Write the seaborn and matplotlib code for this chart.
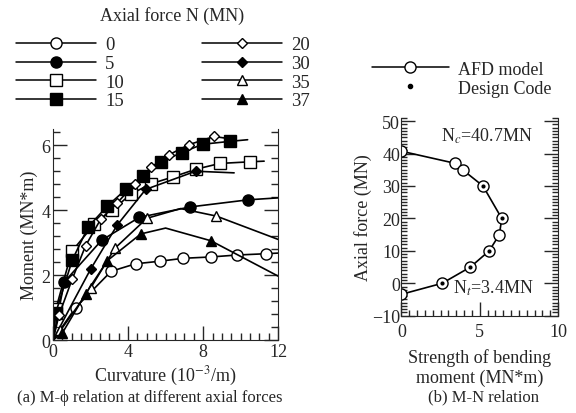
import matplotlib
matplotlib.use("Agg")
import matplotlib.pyplot as plt
import seaborn as sns
import pandas as pd
from matplotlib.lines import Line2D
from matplotlib.ticker import MultipleLocator

sns.set_style("ticks")
plt.rcParams["font.family"] = ["Liberation Serif", "DejaVu Serif"]
plt.rcParams["mathtext.fontset"] = "stix"

# (a) moment-curvature curves, one per axial force N (MN)
curv_0 = [0, 1.2, 3.1, 4.4, 5.7, 6.95, 8.4, 9.8, 11.35, 12.0]
mom_0 = [0, 1.0, 2.12, 2.35, 2.43, 2.52, 2.56, 2.62, 2.66, 2.68]
curv_5 = [0, 0.6, 2.6, 4.6, 7.3, 10.4, 12.0]
mom_5 = [0, 1.79, 3.08, 3.78, 4.10, 4.32, 4.38]
curv_10 = [0, 0.15, 1.0, 2.2, 3.15, 4.14, 5.2, 6.37, 7.6, 8.9, 10.5, 11.25]
mom_10 = [0, 0.95, 2.73, 3.57, 4.0, 4.49, 4.81, 5.02, 5.26, 5.44, 5.49, 5.51]
curv_15 = [0, 0.15, 1.03, 1.88, 2.9, 3.88, 4.77, 5.74, 6.85, 7.97, 9.44, 10.37]
mom_15 = [0, 0.85, 2.47, 3.49, 4.13, 4.64, 5.05, 5.49, 5.77, 6.03, 6.12, 6.17]
curv_20 = [0, 0.32, 1.03, 1.74, 2.54, 3.43, 4.37, 5.24, 6.19, 7.25, 8.59, 9.4]
mom_20 = [0, 0.77, 1.89, 2.91, 3.72, 4.23, 4.82, 5.33, 5.71, 6.02, 6.27, 6.2]
curv_30 = [0, 1.0, 2.0, 3.43, 4.94, 7.6, 9.65]
mom_30 = [0, 1.1, 2.18, 3.55, 4.64, 5.2, 5.15]
curv_35 = [0, 0.4, 2.0, 3.3, 5.0, 6.8, 8.7, 12.0]
mom_35 = [0, 0.3, 1.6, 2.83, 3.75, 4.05, 3.82, 3.1]
curv_37 = [0, 0.5, 1.74, 2.9, 4.68, 6.0, 8.41, 12.0]
mom_37 = [0, 0.22, 1.43, 2.45, 3.27, 3.45, 3.06, 1.97]

# (b) M-N interaction
mn_moment = [0, 3.4, 3.9, 5.2, 6.4, 6.25, 5.6, 4.4, 2.6, 0]
mn_axial = [40.7, 37, 35, 30, 20, 15, 10, 5, 0, -3.4]
code_moment = [5.2, 6.4, 5.6, 4.4, 2.6]
code_axial = [30, 20, 10, 5, 0]

# label, x, y, marker, face, size, which points get markers
series = [
    ("0", curv_0, mom_0, "o", "white", 8, list(range(1, 9))),
    ("5", curv_5, mom_5, "o", "black", 8, list(range(1, 6))),
    ("10", curv_10, mom_10, "s", "white", 8, list(range(1, 11))),
    ("15", curv_15, mom_15, "s", "black", 8, list(range(1, 11))),
    ("20", curv_20, mom_20, "D", "white", 5.5, list(range(1, 11))),
    ("30", curv_30, mom_30, "D", "black", 5.5, [2, 3, 4, 5]),
    ("35", curv_35, mom_35, "^", "white", 7, [1, 2, 3, 4, 6]),
    ("37", curv_37, mom_37, "^", "black", 7, [1, 2, 3, 4, 6]),
]

fig = plt.figure(figsize=(5.76, 4.14), dpi=100)
ax1 = fig.add_axes([0.092, 0.176, 0.391, 0.51])
ax2 = fig.add_axes([0.697, 0.235, 0.272, 0.478])

handles = []
for lab, xs, ys, mk, fc, ms, idx in series:
    df = pd.DataFrame({"x": xs, "y": ys})
    sns.lineplot(data=df, x="x", y="y", ax=ax1, sort=False, estimator=None,
                 color="black", lw=1.2, marker=mk, markevery=idx, ms=ms,
                 mfc=fc, mec="black", mew=1.0)
    handles.append(Line2D([], [], color="black", lw=1.1, marker=mk, ms=ms,
                          mfc=fc, mec="black", mew=1.0, label=lab))

ax1.set_xlim(0, 12)
ax1.set_ylim(0, 6.5)
ax1.xaxis.set_major_locator(MultipleLocator(4))
ax1.xaxis.set_minor_locator(MultipleLocator(0.5))
ax1.yaxis.set_major_locator(MultipleLocator(2))
ax1.yaxis.set_minor_locator(MultipleLocator(0.4))
ax1.tick_params(which="both", direction="in", right=True, top=False,
                labelsize=13, width=1.0, pad=2)
ax1.tick_params(which="major", length=10)
ax1.tick_params(which="minor", length=5)
ax1.spines["top"].set_visible(False)
ax1.set_xlabel("Curvature (10$^{-3}$/m)", fontsize=13, labelpad=3)
ax1.set_ylabel("Moment (MN*m)", fontsize=13, labelpad=2)

fig.text(0.299, 0.95, "Axial force N (MN)", ha="center", fontsize=13)
fig.legend(handles=handles, ncol=2, loc="upper left",
           bbox_to_anchor=(0.008, 0.937), frameon=False, fontsize=13.5,
           handlelength=4.3, handletextpad=0.45, columnspacing=4.17,
           labelspacing=0.08, borderaxespad=0.2)

sns.lineplot(x=mn_moment, y=mn_axial, ax=ax2, sort=False, estimator=None,
             color="black", lw=1.2, marker="o", ms=8, mfc="white",
             mec="black", mew=1.0)
sns.scatterplot(x=code_moment, y=code_axial, ax=ax2, color="black", s=9,
                zorder=5, linewidth=0)
ax2.set_xlim(0, 10)
ax2.set_ylim(-10, 51)
ax2.xaxis.set_major_locator(MultipleLocator(5))
ax2.xaxis.set_minor_locator(MultipleLocator(0.5))
ax2.yaxis.set_major_locator(MultipleLocator(10))
ax2.yaxis.set_minor_locator(MultipleLocator(1))
ax2.tick_params(which="both", direction="in", right=True, top=False,
                labelsize=13, width=1.0, pad=1)
ax2.tick_params(axis="x", pad=5)
ax2.tick_params(which="major", length=10)
ax2.tick_params(which="minor", length=4)
ax2.spines["top"].set_visible(False)
ax2.set_xlabel("Strength of bending\nmoment (MN*m)", fontsize=13,
               labelpad=6)
ax2.set_ylabel("Axial force (MN)", fontsize=13, labelpad=0)
ax2.text(2.5, 44, "N$_c$=40.7MN", fontsize=13)
ax2.text(3.3, -3, "N$_t$=3.4MN", fontsize=13)

leg_b = [Line2D([], [], color="black", lw=1.1, marker="o", ms=8,
                mfc="white", mec="black", label="AFD model"),
         Line2D([], [], color="black", lw=0, marker="o", ms=3,
                label="Design Code")]
fig.legend(handles=leg_b, loc="upper left", bbox_to_anchor=(0.617, 0.89),
           frameon=False, fontsize=13, handlelength=4.3, handletextpad=0.5,
           labelspacing=0.1)

fig.text(0.26, 0.03, "(a) M-\u03d5 relation at different axial forces",
         ha="center", fontsize=12)
fig.text(0.84, 0.03, "(b) M-N relation", ha="center", fontsize=12)

fig.savefig("out.png", dpi=100)
